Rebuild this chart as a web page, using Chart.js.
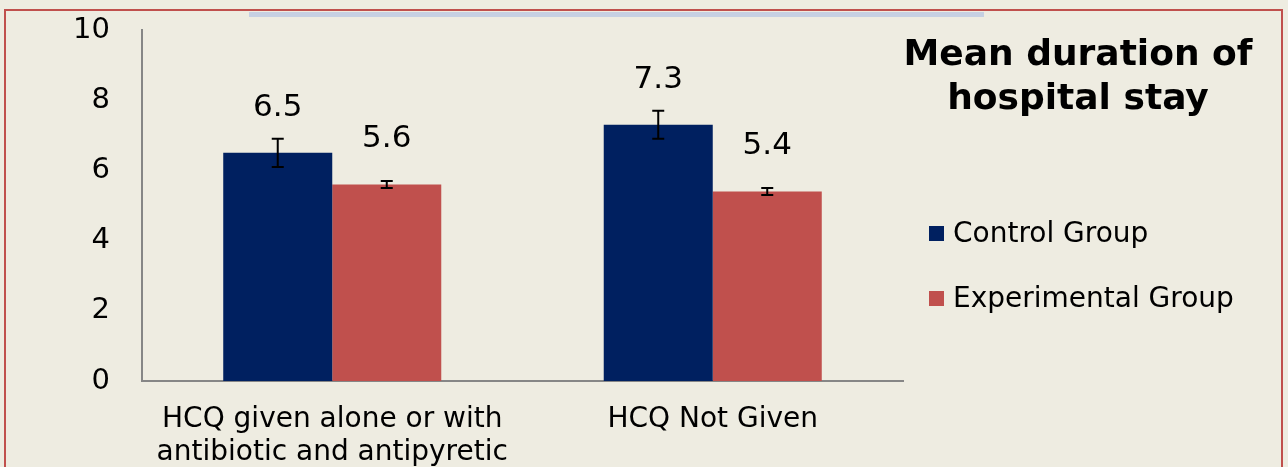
<!DOCTYPE html>
<html>
<head>
<meta charset="utf-8">
<title>Mean duration of hospital stay</title>
<script src="https://cdn.jsdelivr.net/npm/chart.js@4/dist/chart.umd.min.js"></script>
<style>
  html, body { margin: 0; padding: 0; background: #eeece1; }
  #wrap { position: relative; width: 1288px; height: 467px; overflow: hidden; font-family: "DejaVu Sans", Verdana, sans-serif; }
  #frame { position: absolute; left: 4px; top: 9px; width: 1279px; height: 500px; border: 2px solid #c0504d; box-sizing: border-box; }
  #topbar { position: absolute; left: 249px; top: 12px; width: 735px; height: 5px; background: #c6d0e2; }
  #chart { position: absolute; left: 0; top: 0; }
  #title { position: absolute; left: 878px; width: 400px; top: 31px; text-align: center; font-weight: bold; font-size: 36px; line-height: 44px; color: #000; }
  .leg { position: absolute; left: 929px; font-size: 28px; line-height: 32px; color: #000; white-space: nowrap; }
  .leg span { position: absolute; left: 0; width: 15px; height: 15px; }
  .leg b { font-weight: normal; margin-left: 24px; }
</style>
</head>
<body>
<div id="wrap">
  <div id="frame"></div>
  <div id="topbar"></div>
  <canvas id="chart" width="1288" height="467"></canvas>
  <div id="title">Mean duration of<br>hospital stay</div>
  <div id="legend"></div>
</div>
<script>
// chart data
const categories = [
  ["HCQ given alone or with", "antibiotic and antipyretic"],
  "HCQ Not Given"
];
const seriesNames = ["Control Group", "Experimental Group"];
const controlValues = [6.5, 7.3];
const experimentalValues = [5.6, 5.4];
const controlErrors = [0.4, 0.4];
const experimentalErrors = [0.1, 0.1];
const yTicks = [0, 2, 4, 6, 8, 10];
const seriesColors = ["#002060", "#c0504d"];

// html legend
const legendEl = document.getElementById("legend");
seriesNames.forEach((name, i) => {
  const row = document.createElement("div");
  row.className = "leg";
  row.style.top = (217 + i * 65) + "px";
  row.innerHTML = '<span style="top:9px;background:' + seriesColors[i] + '"></span><b>' + name + "</b>";
  legendEl.appendChild(row);
});

// error bars + value labels
const extrasPlugin = {
  id: "extras",
  afterDatasetsDraw(chart) {
    const ctx = chart.ctx;
    const y = chart.scales.y;
    chart.data.datasets.forEach((ds, di) => {
      const meta = chart.getDatasetMeta(di);
      meta.data.forEach((bar, i) => {
        const v = ds.data[i];
        const e = ds.errors[i];
        const top = y.getPixelForValue(v + e);
        const bot = y.getPixelForValue(v - e);
        ctx.save();
        ctx.strokeStyle = "#000";
        ctx.lineWidth = 2;
        ctx.beginPath();
        ctx.moveTo(bar.x, top);
        ctx.lineTo(bar.x, bot);
        ctx.moveTo(bar.x - 6, top);
        ctx.lineTo(bar.x + 6, top);
        ctx.moveTo(bar.x - 6, bot);
        ctx.lineTo(bar.x + 6, bot);
        ctx.stroke();

        ctx.fillStyle = "#000";
        ctx.font = '31px "DejaVu Sans"';
        ctx.textAlign = "center";
        ctx.textBaseline = "alphabetic";
        ctx.fillText(v.toFixed(1), bar.x, bar.y - 37);
        ctx.restore();
      });
    });
  }
};

new Chart(document.getElementById("chart"), {
  type: "bar",
  data: {
    labels: categories,
    datasets: [
      {
        label: seriesNames[0],
        data: controlValues,
        errors: controlErrors,
        backgroundColor: seriesColors[0],
        borderWidth: 0,
        categoryPercentage: 0.573,
        barPercentage: 1.0
      },
      {
        label: seriesNames[1],
        data: experimentalValues,
        errors: experimentalErrors,
        backgroundColor: seriesColors[1],
        borderWidth: 0,
        categoryPercentage: 0.573,
        barPercentage: 1.0
      }
    ]
  },
  options: {
    responsive: false,
    animation: false,
    devicePixelRatio: 1,
    layout: { padding: { top: 30, right: 385, left: 0, bottom: 0 } },
    plugins: {
      legend: { display: false },
      title: { display: false },
      tooltip: { enabled: false }
    },
    scales: {
      x: {
        grid: { display: false, drawTicks: false },
        border: { display: true, color: "#868686", width: 2 },
        ticks: {
          color: "#000",
          padding: 22,
          maxRotation: 0,
          autoSkip: false,
          font: { family: "DejaVu Sans", size: 28, lineHeight: 1.18 }
        },
        afterFit: (s) => { s.height = 86; }
      },
      y: {
        min: 0,
        max: 10,
        afterBuildTicks: (s) => { s.ticks = yTicks.map((v) => ({ value: v })); },
        grid: { display: false, drawTicks: false },
        border: { display: true, color: "#868686", width: 2 },
        ticks: {
          color: "#000",
          padding: 32,
          font: { family: "DejaVu Sans", size: 29 }
        },
        afterFit: (s) => {
          s.width = 142;
          s.paddingTop = 0;
          s.paddingBottom = 0;
        }
      }
    }
  },
  plugins: [extrasPlugin]
});
</script>
</body>
</html>
